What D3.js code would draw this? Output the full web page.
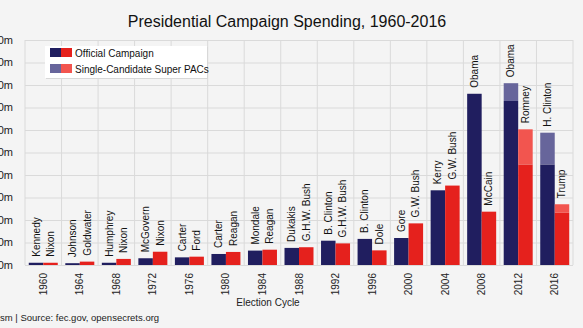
<!DOCTYPE html>
<html>
<head>
<meta charset="utf-8">
<script src="https://cdn.jsdelivr.net/npm/d3@7"></script>
<style>
  body { margin: 0; background: #f4f4f4; }
  svg { display: block; font-family: "Liberation Sans", Arial, Helvetica, sans-serif; }
</style>
</head>
<body>
<div id="chart"></div>
<script>
var years = [1960, 1964, 1968, 1972, 1976, 1980, 1984, 1988, 1992, 1996, 2000, 2004, 2008, 2012, 2016];
var demNames = ['Kennedy', 'Johnson', 'Humphrey', 'McGovern', 'Carter', 'Carter', 'Mondale', 'Dukakis',
  'B. Clinton', 'B. Clinton', 'Gore', 'Kerry', 'Obama', 'Obama', 'H. Clinton'];
var repNames = ['Nixon', 'Goldwater', 'Nixon', 'Nixon', 'Ford', 'Reagan', 'Reagan', 'G.H.W. Bush',
  'G.H.W. Bush', 'Dole', 'G.W. Bush', 'G.W. Bush', 'McCain', 'Romney', 'Trump'];
// $ millions
var demOfficial = [10, 8, 10, 30, 34, 49, 64, 76, 108, 116, 120, 332, 761, 729, 447];
var repOfficial = [10, 15, 27, 59, 37, 58, 68, 79, 96, 65, 185, 353, 237, 447, 232];
var demSuperPac = [0, 0, 0, 0, 0, 0, 0, 0, 0, 0, 0, 0, 0, 79, 141];
var repSuperPac = [0, 0, 0, 0, 0, 0, 0, 0, 0, 0, 0, 0, 0, 156, 38];
var yTicks = [0, 100, 200, 300, 400, 500, 600, 700, 800, 900, 1000];

var colors = {
  dem: '#201e5f', rep: '#e5211d',
  demPac: '#67659b', repPac: '#f2554f'
};

var width = 583, height = 328;
var plot = { left: 25, right: 573, top: 40, bottom: 265 };

var svg = d3.select('#chart')
  .append('svg')
    .attr('width', width)
    .attr('height', height);

var x0 = d3.scaleBand()
  .domain(years)
  .range([plot.left, plot.right])
  .padding(0);

var x1 = d3.scaleBand()
  .domain(['dem', 'rep'])
  .range([0, x0.bandwidth()])
  .paddingInner(0)
  .paddingOuter(0.26);

var y = d3.scaleLinear()
  .domain([0, 1000])
  .range([plot.bottom, plot.top]);

// grid
var grid = svg.append('g').attr('class', 'grid');
grid.selectAll('line.h')
  .data(yTicks)
  .enter().append('line')
    .attr('x1', plot.left)
    .attr('x2', plot.right)
    .attr('y1', function (d) { return y(d) + 0.5; })
    .attr('y2', function (d) { return y(d) + 0.5; })
    .style('stroke', '#dadada');
grid.selectAll('line.v')
  .data(years.concat(['end']))
  .enter().append('line')
    .attr('x1', function (d) { return d === 'end' ? plot.right : x0(d); })
    .attr('x2', function (d) { return d === 'end' ? plot.right : x0(d); })
    .attr('y1', plot.top)
    .attr('y2', plot.bottom)
    .style('stroke', '#dadada');

// y labels
svg.append('g')
  .selectAll('text')
  .data(yTicks)
  .enter().append('text')
    .attr('x', 13)
    .attr('y', function (d) { return y(d); })
    .attr('dy', '0.36em')
    .attr('text-anchor', 'end')
    .style('font-size', '11px')
    .style('fill', '#222')
    .text(function (d) { return '$' + d + 'm'; });

// bars
var rows = years.map(function (yr, i) {
  return [
    { year: yr, side: 'dem', name: demNames[i], official: demOfficial[i], pac: demSuperPac[i] },
    { year: yr, side: 'rep', name: repNames[i], official: repOfficial[i], pac: repSuperPac[i] }
  ];
});
var bars = d3.merge(rows);

var g = svg.selectAll('g.bar')
  .data(bars)
  .enter().append('g')
    .classed('bar', true)
    .attr('transform', function (d) { return 'translate(' + (x0(d.year) + x1(d.side)) + ',0)'; });

g.append('rect')
  .attr('x', 0)
  .attr('width', x1.bandwidth())
  .attr('y', function (d) { return y(d.official); })
  .attr('height', function (d) { return y(0) - y(d.official); })
  .style('fill', function (d) { return colors[d.side]; });

g.filter(function (d) { return d.pac > 0; })
  .append('rect')
  .attr('x', 0)
  .attr('width', x1.bandwidth())
  .attr('y', function (d) { return y(d.official + d.pac); })
  .attr('height', function (d) { return y(d.official) - y(d.official + d.pac); })
  .style('fill', function (d) { return colors[d.side + 'Pac']; });

g.append('text')
  .attr('transform', function (d) {
    return 'translate(' + (x1.bandwidth() / 2) + ',' + (y(d.official + d.pac) - 6) + ') rotate(-90)';
  })
  .attr('dy', '0.35em')
  .style('font-size', '10px')
  .style('fill', '#111')
  .text(function (d) { return d.name; });

// x labels
svg.append('g')
  .selectAll('text')
  .data(years)
  .enter().append('text')
    .attr('transform', function (d) {
      return 'translate(' + (x0(d) + x0.bandwidth() / 2) + ',273) rotate(-90)';
    })
    .attr('dy', '0.35em')
    .attr('text-anchor', 'end')
    .style('font-size', '10px')
    .style('fill', '#222')
    .text(function (d) { return d; });

svg.append('text')
  .attr('x', 268)
  .attr('y', 306)
  .attr('text-anchor', 'middle')
  .style('font-size', '10px')
  .style('fill', '#222')
  .text('Election Cycle');

svg.append('text')
  .attr('x', 0)
  .attr('y', 321)
  .style('font-size', '9.5px')
  .style('fill', '#222')
  .text('sm | Source: fec.gov, opensecrets.org');

svg.append('text')
  .attr('x', 287)
  .attr('y', 27)
  .attr('text-anchor', 'middle')
  .style('font-size', '16px')
  .style('fill', '#111')
  .text('Presidential Campaign Spending, 1960-2016');

// legend
var legendItems = [
  { label: 'Official Campaign', a: colors.dem, b: colors.rep },
  { label: 'Single-Candidate Super PACs', a: colors.demPac, b: colors.repPac }
];
var legend = svg.append('g').attr('transform', 'translate(45,46)');
legend.append('rect')
  .attr('x', 1).attr('y', 1)
  .attr('width', 162).attr('height', 32)
  .style('fill', '#d8d8d8');
legend.append('rect')
  .attr('width', 162).attr('height', 32)
  .style('fill', '#fff');
var li = legend.selectAll('g.item')
  .data(legendItems)
  .enter().append('g')
    .attr('transform', function (d, i) { return 'translate(5,' + (2 + i * 16) + ')'; });
li.append('rect')
  .attr('width', 11).attr('height', 9)
  .style('fill', function (d) { return d.a; });
li.append('rect')
  .attr('x', 11)
  .attr('width', 11).attr('height', 9)
  .style('fill', function (d) { return d.b; });
li.append('text')
  .attr('x', 25)
  .attr('y', 8.5)
  .style('font-size', '10px')
  .style('fill', '#111')
  .text(function (d) { return d.label; });
</script>
</body>
</html>
